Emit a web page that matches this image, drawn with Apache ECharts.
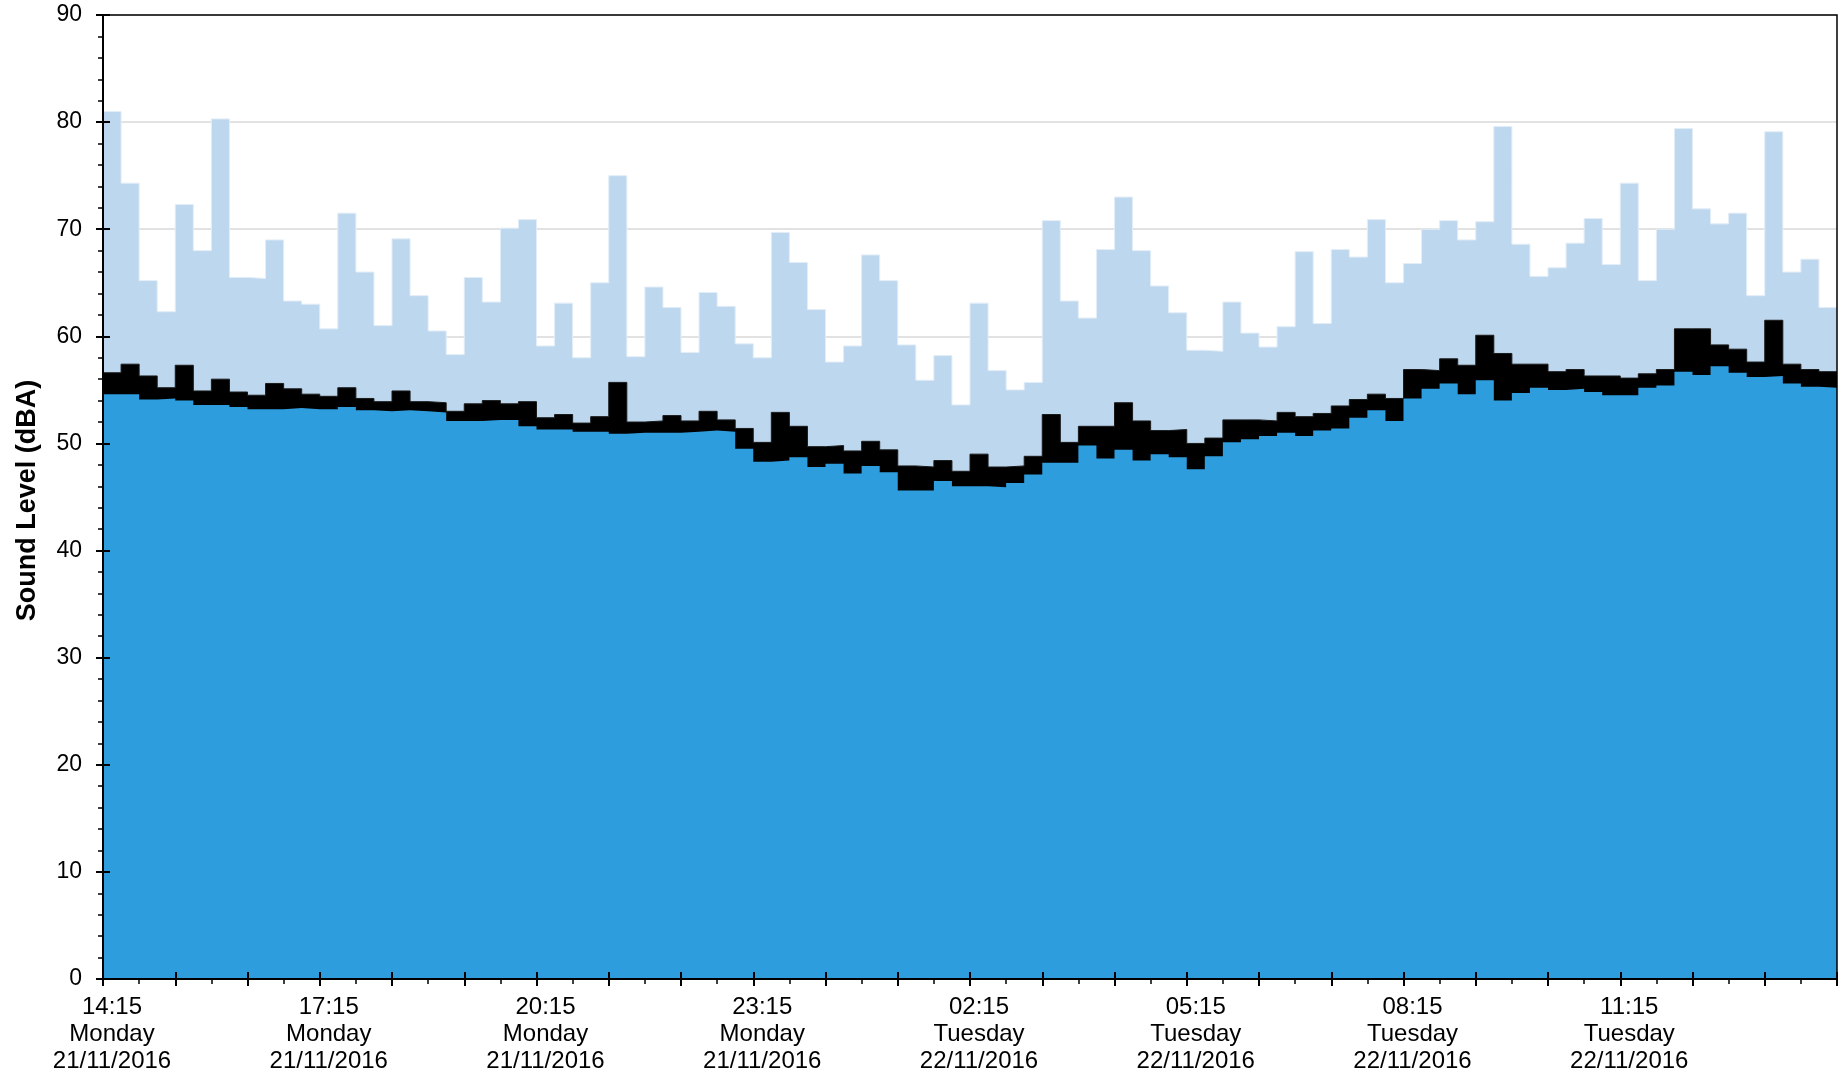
<!DOCTYPE html>
<html>
<head>
<meta charset="utf-8">
<script src="https://cdn.jsdelivr.net/npm/echarts@6/dist/echarts.min.js"></script>
<style>
  html, body { margin: 0; padding: 0; background: #fff; }
  #chart { width: 1841px; height: 1075px; }
</style>
</head>
<body>
<div id="chart"></div>
<script>
// 15-minute measurement periods, starting 14:15 Monday 21/11/2016
const periodMinutes = 15;

// Maximum level per period (dBA)
const laMax = [
  81.0, 74.3, 65.2, 62.3, 72.3, 68.0, 80.3, 65.5, 65.4, 69.0, 63.3, 63.0, 60.7, 71.5, 66.0, 61.0,
  69.1, 63.8, 60.5, 58.3, 65.5, 63.2, 70.1, 70.9, 59.1, 63.1, 58.0, 65.0, 75.0, 58.1, 64.6, 62.7,
  58.5, 64.1, 62.8, 59.3, 58.0, 69.7, 66.9, 62.5, 57.6, 59.1, 67.6, 65.2, 59.2, 55.9, 58.2, 53.6,
  63.1, 56.8, 55.0, 55.7, 70.8, 63.3, 61.7, 68.1, 73.0, 68.0, 64.7, 62.2, 58.7, 58.6, 63.2, 60.3,
  59.0, 60.9, 67.9, 61.2, 68.1, 67.4, 70.9, 65.0, 66.8, 70.0, 70.8, 69.0, 70.7, 79.6, 68.6, 65.6,
  66.4, 68.7, 71.0, 66.7, 74.3, 65.2, 70.0, 79.4, 71.9, 70.5, 71.5, 63.8, 79.1, 66.0, 67.2, 62.7
];

// Equivalent continuous level per period (dBA)
const laEq = [
  56.6, 57.4, 56.3, 55.2, 57.3, 54.9, 56.0, 54.8, 54.5, 55.6, 55.1, 54.6, 54.4, 55.2, 54.2, 53.9,
  54.9, 53.9, 53.8, 53.0, 53.7, 54.0, 53.7, 53.9, 52.4, 52.7, 51.9, 52.5, 55.7, 52.0, 52.1, 52.6,
  52.1, 53.0, 52.2, 51.4, 50.1, 52.9, 51.6, 49.7, 49.8, 49.3, 50.2, 49.4, 47.9, 47.8, 48.4, 47.4,
  49.0, 47.8, 47.9, 48.8, 52.7, 50.1, 51.6, 51.6, 53.8, 52.1, 51.2, 51.3, 50.0, 50.5, 52.2, 52.2,
  52.1, 52.9, 52.5, 52.8, 53.5, 54.1, 54.6, 54.2, 56.9, 56.8, 57.9, 57.3, 60.1, 58.4, 57.4, 57.4,
  56.7, 56.9, 56.3, 56.3, 56.1, 56.5, 56.9, 60.7, 60.7, 59.2, 58.8, 57.6, 61.5, 57.4, 56.9, 56.7
];

// Background level per period (dBA)
const la90 = [
  54.6, 54.6, 54.1, 54.2, 54.0, 53.6, 53.6, 53.4, 53.2, 53.2, 53.3, 53.2, 53.2, 53.4, 53.1, 53.0,
  53.1, 53.0, 52.9, 52.1, 52.1, 52.2, 52.2, 51.6, 51.3, 51.3, 51.1, 51.1, 50.9, 51.0, 51.0, 51.0,
  51.1, 51.2, 51.1, 49.5, 48.3, 48.4, 48.7, 47.8, 48.1, 47.2, 47.9, 47.3, 45.6, 45.6, 46.5, 46.0,
  46.0, 45.9, 46.3, 47.1, 48.2, 48.2, 49.8, 48.6, 49.4, 48.4, 49.0, 48.7, 47.6, 48.8, 50.1, 50.4,
  50.7, 51.0, 50.7, 51.2, 51.4, 52.4, 53.1, 52.1, 54.2, 55.1, 55.6, 54.6, 55.9, 54.0, 54.7, 55.2,
  55.0, 55.1, 54.8, 54.5, 54.5, 55.2, 55.4, 56.7, 56.4, 57.2, 56.6, 56.2, 56.3, 55.6, 55.3, 55.2
];

// Time axis labels, every three hours
const tickLabels = [
  '14:15\nMonday\n21/11/2016',
  '17:15\nMonday\n21/11/2016',
  '20:15\nMonday\n21/11/2016',
  '23:15\nMonday\n21/11/2016',
  '02:15\nTuesday\n22/11/2016',
  '05:15\nTuesday\n22/11/2016',
  '08:15\nTuesday\n22/11/2016',
  '11:15\nTuesday\n22/11/2016'
];

const totalMinutes = laMax.length * periodMinutes;
const labelStep = 180;

// Each period holds its level until the next one starts; the last level runs to the end.
function toSteps(values) {
  const pts = values.map((v, i) => [i * periodMinutes, v]);
  pts.push([totalMinutes, values[values.length - 1]]);
  return pts;
}

const FONT = "'Liberation Sans', Arial, sans-serif";

const chart = echarts.init(document.getElementById('chart'), null, { renderer: 'canvas' });

const xBase = {
  type: 'value', min: 0, max: totalMinutes, interval: 60,
  position: 'bottom'
};
const yBase = {
  type: 'value', min: 0, max: 90, interval: 10, position: 'left'
};

const option = {
  animation: false,
  backgroundColor: '#ffffff',
  grid: {
    show: true, z: 4,
    left: 103, right: 4, top: 15, bottom: 95,
    borderColor: '#000', borderWidth: 1.5,
    backgroundColor: 'transparent'
  },
  xAxis: [
    Object.assign({}, xBase, {
      z: 5,
      axisLine: { show: true, onZero: false, lineStyle: { color: '#000', width: 2 } },
      axisTick: { show: true, inside: false, length: 7, lineStyle: { color: '#000', width: 2 } },
      minorTick: { show: true, splitNumber: 2, length: 5, lineStyle: { color: '#000', width: 1.5 } },
      splitLine: { show: false },
      axisLabel: {
        show: true, margin: 15, color: '#000', fontFamily: FONT, fontSize: 24, lineHeight: 27,
        padding: [0, 0, 0, 18],
        showMaxLabel: false,
        formatter: v => (v % labelStep === 0 && v < totalMinutes) ? tickLabels[v / labelStep] : ''
      }
    }),
    Object.assign({}, xBase, {
      z: 5,
      axisLine: { show: false, onZero: false },
      axisTick: { show: true, inside: true, length: 7, lineStyle: { color: '#000', width: 2 } },
      axisLabel: { show: false },
      splitLine: { show: false }
    })
  ],
  yAxis: [
    // gridlines behind the series
    Object.assign({}, yBase, {
      z: 0,
      axisLine: { show: false },
      axisTick: { show: false },
      axisLabel: { show: false },
      splitLine: { show: true, lineStyle: { color: '#d9d9d9', width: 1.5 } }
    }),
    Object.assign({}, yBase, {
      z: 5,
      name: 'Sound Level (dBA)',
      nameLocation: 'middle',
      nameGap: 62,
      nameTextStyle: {
        color: '#000', fontFamily: FONT, fontSize: 27, fontWeight: 'bold',
        padding: [0, 7, 0, 0]
      },
      axisLine: { show: true, lineStyle: { color: '#000', width: 2 } },
      axisTick: { show: true, inside: false, length: 7, lineStyle: { color: '#000', width: 2 } },
      minorTick: { show: true, splitNumber: 5, length: 5, lineStyle: { color: '#000', width: 1.5 } },
      axisLabel: { show: true, margin: 21, color: '#000', fontFamily: FONT, fontSize: 23 },
      splitLine: { show: false }
    }),
    Object.assign({}, yBase, {
      z: 5,
      axisLine: { show: false },
      axisTick: { show: true, inside: true, length: 7, lineStyle: { color: '#000', width: 2 } },
      axisLabel: { show: false },
      splitLine: { show: false }
    })
  ],
  series: [
    {
      name: 'LAmax', type: 'line', step: 'end', xAxisIndex: 0, yAxisIndex: 0,
      data: toSteps(laMax), symbol: 'none',
      lineStyle: { color: '#e2edf7', width: 1 },
      areaStyle: { color: '#bdd7ee', opacity: 1 }
    },
    {
      name: 'LAeq', type: 'line', step: 'end', xAxisIndex: 0, yAxisIndex: 0,
      data: toSteps(laEq), symbol: 'none',
      lineStyle: { color: '#1a1a1a', width: 1 },
      areaStyle: { color: '#000000', opacity: 1 }
    },
    {
      name: 'LA90', type: 'line', step: 'end', xAxisIndex: 0, yAxisIndex: 0,
      data: toSteps(la90), symbol: 'none',
      lineStyle: { color: '#2e9dde', width: 0 },
      areaStyle: { color: '#2e9dde', opacity: 1 }
    }
  ]
};

chart.setOption(option);
</script>
</body>
</html>
